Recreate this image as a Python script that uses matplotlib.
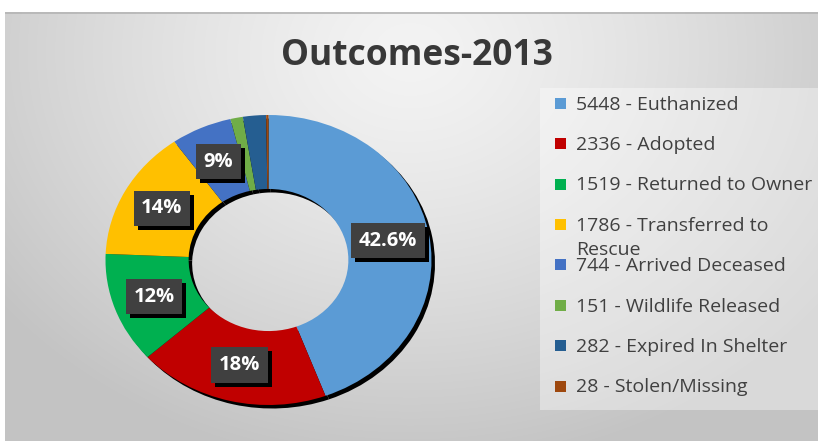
import matplotlib
matplotlib.use("Agg")
import matplotlib.pyplot as plt
import numpy as np
import textwrap
from matplotlib import transforms
from matplotlib.patches import Rectangle

# ---- data ----
categories = ["Euthanized", "Adopted", "Returned to Owner", "Transferred to Rescue",
              "Arrived Deceased", "Wildlife Released", "Expired In Shelter", "Stolen/Missing"]
counts = [5448, 2336, 1519, 1786, 744, 151, 282, 28]
pct_labels = ["42.6%", "18%", "12%", "14%", "9%", "", "", ""]
colors = ["#5B9BD5", "#C00000", "#00B050", "#FFC000",
          "#4472C4", "#70AD47", "#255E91", "#9E480E"]
title = "Outcomes-2013"

W, H = 818, 441
fig = plt.figure(figsize=(W / 100, H / 100), dpi=100)
fig.patch.set_facecolor("white")


def px_axes(x0, y0, x1, y1):
    return [x0 / W, 1 - y1 / H, (x1 - x0) / W, (y1 - y0) / H]


# ---- background gradient ----
bx0, by0 = 5, 12
bg = fig.add_axes(px_axes(bx0, by0, W, H))
bg.axis('off')
nx, ny = W - bx0, H - by0
yy, xx = np.mgrid[0:ny, 0:nx]
r = np.sqrt(((xx - 405) / 520) ** 2 + ((yy - 40) / 420) ** 2)
t = np.clip(r, 0, 1)
g = 0.955 + (0.765 - 0.955) * t ** 1.3
bg.imshow(np.dstack([g, g, g]), extent=(0, nx, ny, 0), aspect='auto', interpolation='bilinear')
bg.set_xlim(0, nx)
bg.set_ylim(ny, 0)
bg.plot([0, nx], [0.5, 0.5], color="#b4b4b4", lw=1.2)
# legend panel
bg.add_patch(Rectangle((540 - bx0, 88 - by0), W - 540, 410 - 88,
                       facecolor='white', alpha=0.38, edgecolor='none'))

# ---- donut ----
cx, cy = 268.5, 260.0
rx, ry = 163.0, 145.0
ax0, ax1, ay0, ay1 = 90, 447, 100, 420
ax = fig.add_axes(px_axes(ax0, ay0, ax1, ay1))
ax.patch.set_alpha(0)

sx, sy = 3.5 / rx, 3.5 / ry
ax.pie(counts, colors=['#000000'] * len(counts), startangle=90, counterclock=False,
       radius=1, center=(sx, -sy), wedgeprops=dict(width=0.51, edgecolor='none'))
wedges, _ = ax.pie(counts, colors=colors, startangle=90, counterclock=False,
                   radius=1, center=(0, 0), wedgeprops=dict(width=0.51, edgecolor='none'))
ax.set_aspect('auto')
ax.set_xlim(-(cx - ax0) / rx, (ax1 - cx) / rx)
ax.set_ylim(-(ay1 - cy) / ry, (cy - ay0) / ry)
ax.axis('off')

shadow_tr = transforms.offset_copy(ax.transData, fig=fig, x=4, y=-4, units='dots')
for w, lab in zip(wedges, pct_labels):
    if not lab:
        continue
    th = np.deg2rad((w.theta1 + w.theta2) / 2)
    rr = 0.745
    x, y = rr * np.cos(th), rr * np.sin(th)
    kw = dict(ha='center', va='center', fontsize=14.5, fontweight='bold', family='Open Sans')
    ax.text(x, y, lab, color='black', transform=shadow_tr,
            bbox=dict(boxstyle='square,pad=0.38', facecolor='black', edgecolor='none'), **kw)
    ax.text(x, y, lab, color='white',
            bbox=dict(boxstyle='square,pad=0.38', facecolor='#404040', edgecolor='none'), **kw)

# ---- title ----
fig.text(417 / W, 1 - 65 / H, title, ha='center', va='baseline', fontsize=25.5,
         fontweight='bold', family='Open Sans', color='#383838')

# ---- legend ----
row0, step, line_h = 103.3, 40.4, 24.0
for i, (cat, n, col) in enumerate(zip(categories, counts, colors)):
    yc = row0 + step * i
    fig.patches.append(Rectangle((555 / W, 1 - (yc + 5.5) / H), 11 / W, 11 / H,
                                 facecolor=col, edgecolor='none',
                                 transform=fig.transFigure, figure=fig))
    lines = textwrap.wrap(f"{n} - {cat}", 24)
    for k, ln in enumerate(lines):
        fig.text(576 / W, 1 - (yc + 6.4 + k * line_h) / H, ln, ha='left', va='baseline',
                 fontsize=14, family='Open Sans', color='#404040')

fig.savefig("out.png", dpi=100, facecolor=fig.get_facecolor())
